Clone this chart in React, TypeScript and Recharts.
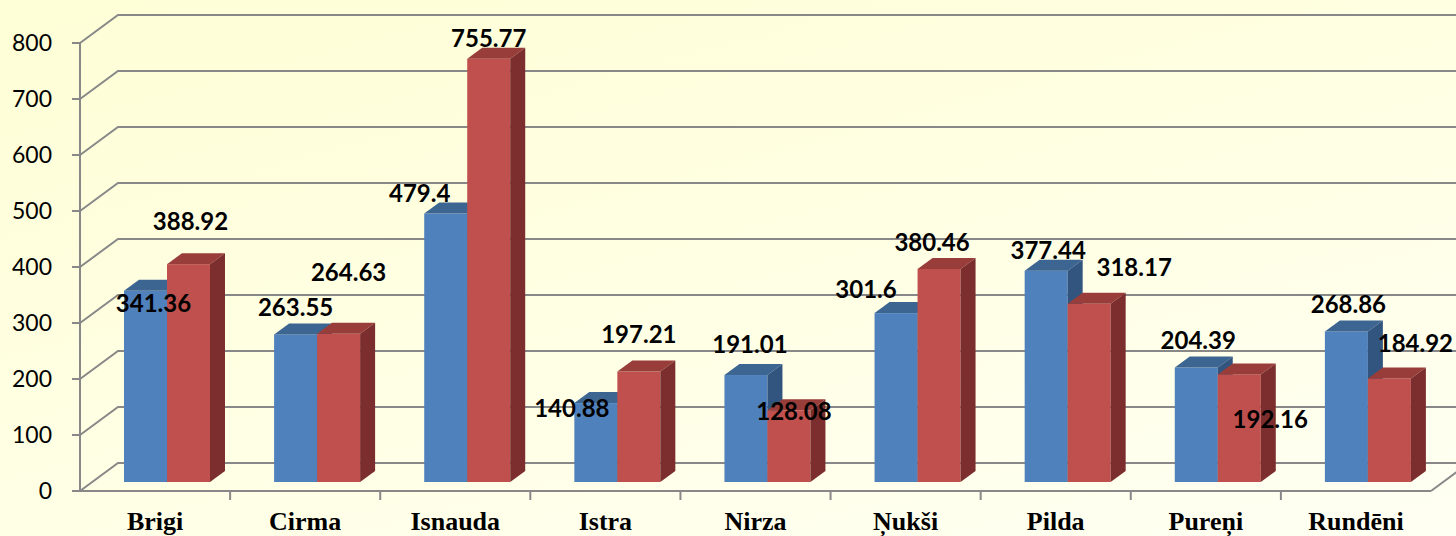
import React from 'react';
import { BarChart, Bar, XAxis, YAxis, CartesianGrid, LabelList } from 'recharts';

const villages = ['Brigi', 'Cirma', 'Isnauda', 'Istra', 'Nirza', 'Ņukši', 'Pilda', 'Pureņi', 'Rundēni'];
const seriesA = [341.36, 263.55, 479.4, 140.88, 191.01, 301.6, 377.44, 204.39, 268.86];
const seriesB = [388.92, 264.63, 755.77, 197.21, 128.08, 380.46, 318.17, 192.16, 184.92];
const yTicks = [0, 100, 200, 300, 400, 500, 600, 700, 800];

// label nudges (dx, dy) from the top of each bar, Excel 3-D placement is irregular
const labelShiftA = [[8, 13], [0, -26], [-26, -20], [-24, 6], [4, -30], [-30, -23], [2, -20], [2, -27], [2, -26]];
const labelShiftB = [[2, -42], [10, -61], [0, -20], [0, -37], [5, 2], [-7, -26], [45, -36], [31, 46], [26, -34]];

const data = villages.map((name, i) => ({ name, a: seriesA[i], b: seriesB[i] }));

const W = 1456;
const H = 536;
const AXIS_Y = 491;
const PLOT_W = 1351;
const BAND = PLOT_W / villages.length;

// wall depth and bar depth offsets
const WALL_DX = 38;
const WALL_DY = 28;
const OX = 12;
const OY = -9;
const DX = 15;
const DY = 11;

const GRID = '#888888';

const Bar3D = (props: any) => {
  const { x, y, width, height, front, top, side } = props;
  if (!height || height <= 0) return null;
  const fx = x + OX;
  const fy = y + OY;
  return (
    <g>
      <rect x={fx} y={fy} width={width} height={height} fill={front} />
      <polygon
        points={`${fx},${fy} ${fx + width},${fy} ${fx + width + DX},${fy - DY} ${fx + DX},${fy - DY}`}
        fill={top}
      />
      <polygon
        points={`${fx + width},${fy} ${fx + width + DX},${fy - DY} ${fx + width + DX},${fy + height - DY} ${fx + width},${fy + height}`}
        fill={side}
      />
    </g>
  );
};

const gridLine = (p: any) => {
  const { x1, y1, x2 } = p;
  const d = `M${x1},${y1} L${x1 + WALL_DX},${y1 - WALL_DY} L${x2 + WALL_DX},${y1 - WALL_DY}` +
    (Math.abs(y1 - AXIS_Y) < 1 ? ` M${x2},${y1} L${x2 + WALL_DX},${y1 - WALL_DY}` : '');
  return <path key={p.key ?? `g-${y1}`} d={d} stroke={GRID} strokeWidth={2} fill="none" />;
};

const makeLabel = (shift: number[][], values: number[]) => (p: any) => {
  const vb = p.viewBox ?? p;
  const x = vb.x ?? p.x;
  const y = vb.y ?? p.y;
  const width = vb.width ?? p.width;
  const idx = p.index ?? values.indexOf(p.value);
  const [dx, dy] = shift[idx] ?? [0, -26];
  const cx = x + width / 2 + OX + dx;
  const cy = y + OY + dy;
  return (
    <text
      key={`l-${idx}`}
      x={cx}
      y={cy + 8}
      textAnchor="middle"
      fontFamily="Lato, 'Open Sans', sans-serif"
      fontWeight={700}
      fontSize={24}
      fill="#000"
    >
      {p.value}
    </text>
  );
};

const CategoryTick = (p: any) => {
  const { x, payload, index } = p;
  return (
    <g>
      {index > 0 && (
        <line x1={x - BAND / 2} y1={AXIS_Y} x2={x - BAND / 2} y2={AXIS_Y + 9} stroke={GRID} strokeWidth={2} />
      )}
      <text
        x={x}
        y={AXIS_Y + 39}
        textAnchor="middle"
        fontFamily="'Liberation Serif', 'Times New Roman', serif"
        fontWeight={700}
        fontSize={26}
        fill="#000"
      >
        {payload.value}
      </text>
    </g>
  );
};

export default function App() {
  return (
    <div
      style={{
        position: 'absolute',
        left: 0,
        top: 0,
        width: W,
        height: H,
        overflow: 'hidden',
        background: 'linear-gradient(165deg, #fefed6 0%, #ffffe2 45%, #fffff3 100%)',
      }}
    >
      <BarChart
        width={W}
        height={H}
        data={data}
        margin={{ top: 43, right: 25, bottom: 0, left: 0 }}
        barSize={43}
        barGap={0}
      >
        <CartesianGrid vertical={false} horizontal={gridLine} />
        <XAxis
          dataKey="name"
          height={45}
          axisLine={{ stroke: GRID, strokeWidth: 2 }}
          tickLine={false}
          tick={<CategoryTick />}
          interval={0}
        />
        <YAxis
          width={80}
          domain={[0, 800]}
          ticks={yTicks}
          interval={0}
          axisLine={{ stroke: GRID, strokeWidth: 2 }}
          tickLine={{ stroke: GRID, strokeWidth: 2 }}
          tickSize={8}
          tickMargin={20}
          tick={{ fontFamily: 'Lato, sans-serif', fontSize: 23, fill: '#000' }}
        />
        <Bar
          dataKey="a"
          fill="#4f81bd"
          isAnimationActive={false}
          shape={(p: any) => <Bar3D {...p} front="#4f81bd" top="#3d6592" side="#32557f" />}
        >
          <LabelList dataKey="a" content={makeLabel(labelShiftA, seriesA)} />
        </Bar>
        <Bar
          dataKey="b"
          fill="#c0504d"
          isAnimationActive={false}
          shape={(p: any) => <Bar3D {...p} front="#c0504d" top="#993d3a" side="#7b2e2d" />}
        >
          <LabelList dataKey="b" content={makeLabel(labelShiftB, seriesB)} />
        </Bar>
      </BarChart>
    </div>
  );
}
